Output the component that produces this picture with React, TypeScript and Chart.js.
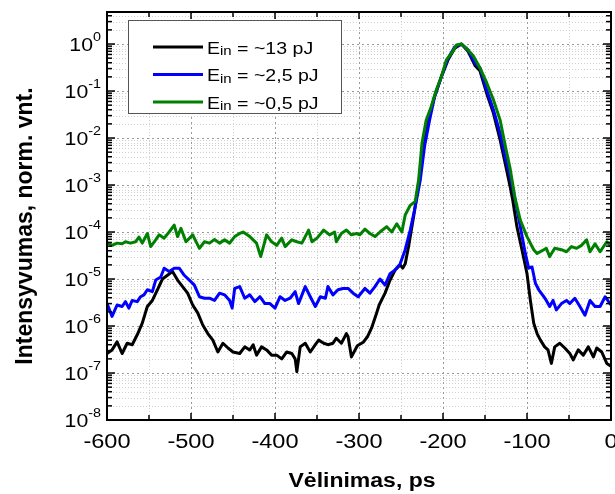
import React, { useEffect, useRef } from 'react';
import { Chart, registerables } from 'chart.js';
Chart.register(...registerables);

// ---------- data (delay in ps, normalized intensity) ----------
const blackX = [-600,-594,-588,-582,-576,-570,-564,-558,-552,-546,-540,-534,-528,-522,-516,-510,-504,-498,-492,-486,-480,-474,-468,-462,-456,-450,-442,-436,-430,-426,-422,-416,-410,-404,-398,-392,-386,-380,-376,-374,-370,-364,-358,-352,-348,-342,-337,-331,-327,-321,-315,-313,-309,-302,-295,-290,-285,-279,-276,-269,-263,-257,-251,-248,-245,-241,-235,-229,-224,-218,-210,-202,-194,-186,-178,-170,-162,-156,-148,-140,-132,-126,-120,-117,-112,-106,-100,-96,-92,-88,-84,-79,-75,-71,-67,-61,-55,-49,-45,-39,-33,-27,-21,-17,-11,-5,0];
const blackY = [2.6e-7,3.1e-7,4.6e-7,2.6e-7,4.3e-7,4.0e-7,6.5e-7,1.15e-6,2.6e-6,3.5e-6,5.9e-6,1.0e-5,1.2e-5,1.45e-5,9.5e-6,6.9e-6,5.0e-6,2.8e-6,1.9e-6,1.05e-6,6.9e-7,5.0e-7,2.8e-7,4.3e-7,3.4e-7,2.8e-7,2.6e-7,3.6e-7,3.1e-7,4.0e-7,2.4e-7,3.6e-7,3.1e-7,2.4e-7,2.4e-7,2.0e-7,2.8e-7,2.6e-7,2.0e-7,1.07e-7,3.6e-7,4.3e-7,2.8e-7,4.0e-7,5.0e-7,4.3e-7,4.0e-7,4.3e-7,5.5e-7,4.3e-7,6.9e-7,5.9e-7,2.2e-7,3.8e-7,4.5e-7,5.9e-7,9.1e-7,1.9e-6,2.8e-6,5.0e-6,9.5e-6,1.55e-5,2.0e-5,1.7e-5,2.1e-5,4.9e-5,2.1e-4,1.1e-3,4.7e-3,2.4e-2,7.6e-2,0.2,0.46,0.81,1.0,0.69,0.35,0.27,0.089,0.034,9.1e-3,2.9e-3,9.1e-4,4.8e-4,1.3e-4,4.2e-5,1.3e-5,3.5e-6,1.15e-6,6.9e-7,5.0e-7,3.6e-7,3.1e-7,1.6e-7,3.6e-7,4.3e-7,3.4e-7,2.6e-7,1.9e-7,3.1e-7,2.4e-7,3.6e-7,2.2e-7,3.4e-7,2.8e-7,1.6e-7,1.4e-7];

const blueX = [-600,-594,-588,-582,-578,-574,-570,-564,-560,-556,-552,-546,-542,-536,-532,-526,-520,-514,-508,-502,-496,-490,-484,-478,-472,-466,-460,-454,-451,-448,-442,-436,-430,-424,-418,-412,-406,-400,-394,-388,-382,-376,-372,-364,-358,-352,-346,-340,-337,-331,-325,-319,-313,-307,-301,-293,-287,-281,-275,-269,-263,-257,-251,-245,-239,-233,-227,-222,-216,-210,-202,-194,-186,-178,-170,-162,-156,-148,-140,-132,-126,-120,-114,-108,-102,-98,-94,-90,-86,-80,-77,-73,-69,-65,-59,-53,-49,-43,-37,-31,-25,-19,-13,-7,0];
const blueY = [3.0e-6,1.6e-6,2.8e-6,2.6e-6,3.3e-6,2.4e-6,3.5e-6,3.3e-6,4.2e-6,4.6e-6,5.9e-6,5.4e-6,9.5e-6,1.1e-5,1.7e-5,1.45e-5,1.7e-5,1.7e-5,1.2e-5,9.5e-6,7.4e-6,4.2e-6,3.9e-6,3.9e-6,3.5e-6,5.0e-6,4.6e-6,3.5e-6,2.4e-6,6.3e-6,6.9e-6,3.9e-6,4.6e-6,3.3e-6,4.2e-6,3.0e-6,3.0e-6,2.4e-6,4.2e-6,3.5e-6,3.9e-6,5.4e-6,3.0e-6,6.9e-6,4.2e-6,2.6e-6,4.2e-6,3.9e-6,6.9e-6,4.6e-6,5.9e-6,6.3e-6,6.3e-6,5.0e-6,4.2e-6,6.3e-6,5.0e-6,6.9e-6,1.0e-5,7.4e-6,1.3e-5,1.55e-5,2.1e-5,4.2e-5,1.1e-4,3.5e-4,1.3e-3,6.6e-3,2.4e-2,7.6e-2,0.2,0.5,0.87,1.0,0.74,0.39,0.31,0.105,0.04,0.0126,4.0e-3,1.5e-3,4.8e-4,1.3e-4,3.5e-5,1.7e-5,1.8e-5,8.1e-6,5.9e-6,4.2e-6,3.5e-6,2.6e-6,3.5e-6,2.2e-6,3.0e-6,3.5e-6,3.0e-6,3.9e-6,2.6e-6,1.7e-6,3.5e-6,2.6e-6,2.6e-6,4.2e-6,2.8e-6];

const greenX = [-600,-594,-588,-582,-578,-572,-566,-562,-558,-552,-548,-542,-538,-532,-526,-520,-516,-512,-506,-498,-490,-484,-478,-472,-466,-460,-454,-448,-442,-438,-430,-422,-417,-410,-404,-398,-392,-388,-380,-374,-368,-360,-356,-350,-342,-335,-329,-327,-321,-315,-309,-303,-299,-293,-287,-281,-275,-267,-261,-255,-249,-245,-239,-233,-229,-225,-220,-214,-208,-202,-196,-190,-184,-178,-170,-164,-156,-148,-140,-132,-126,-120,-114,-108,-100,-92,-88,-80,-77,-73,-67,-59,-53,-47,-41,-35,-29,-25,-19,-13,-5,0];
const greenY = [6.0e-5,5.2e-5,5.8e-5,5.6e-5,6.2e-5,5.8e-5,6.2e-5,7.8e-5,5.8e-5,9.3e-5,4.9e-5,6.8e-5,8.7e-5,7.4e-5,1.0e-4,1.4e-4,8.0e-5,1.2e-4,6.2e-5,8.7e-5,4.5e-5,6.2e-5,5.8e-5,6.9e-5,5.8e-5,6.8e-5,5.8e-5,8.0e-5,9.3e-5,1.0e-4,8.0e-5,5.8e-5,3.0e-5,8.7e-5,6.2e-5,5.2e-5,7.4e-5,4.9e-5,6.8e-5,6.2e-5,5.8e-5,1.1e-4,6.2e-5,7.4e-5,1.1e-4,8.7e-5,1.0e-4,6.2e-5,9.3e-5,1.1e-4,8.7e-5,9.3e-5,8.7e-5,1.15e-4,9.3e-5,8.0e-5,1.0e-4,1.3e-4,1.0e-4,1.5e-4,1.0e-4,2.3e-4,3.7e-4,4.5e-4,1.3e-3,7.8e-3,2.4e-2,4.7e-2,0.105,0.2,0.46,0.63,0.95,1.0,0.74,0.56,0.31,0.15,0.065,0.024,7.0e-3,2.2e-3,5.0e-4,1.8e-4,8.0e-5,4.2e-5,3.5e-5,4.2e-5,4.5e-5,3.0e-5,4.5e-5,4.2e-5,3.8e-5,4.9e-5,4.5e-5,5.2e-5,6.8e-5,3.8e-5,5.6e-5,3.8e-5,6.2e-5,4.9e-5];

const seriesLabels = ['~13 pJ', '~2,5 pJ', '~0,5 pJ'];
const seriesColors = ['#000000', '#0000ff', '#008000'];
const xTicks = [-600, -500, -400, -300, -200, -100, 0];
const xMinorTicks = [-550, -450, -350, -250, -150, -50];
const yTickExps = [-8, -7, -6, -5, -4, -3, -2, -1, 0];
const xTitle = 'Vėlinimas, ps';
const yTitle = 'Intensyvumas, norm. vnt.';

const FONT = '"Liberation Sans", Arial, Helvetica, sans-serif';
const SX = 1.15;

function sText(ctx: CanvasRenderingContext2D, text: string, x: number, y: number, font: string, align: CanvasTextAlign, baseline: CanvasTextBaseline, sx = SX) {
  ctx.save();
  ctx.font = font;
  ctx.textAlign = align;
  ctx.textBaseline = baseline;
  ctx.translate(x, y);
  ctx.scale(sx, 1);
  ctx.fillText(text, 0, 0);
  ctx.restore();
}
function tW(ctx: CanvasRenderingContext2D, text: string, font: string, sx = SX) {
  ctx.save();
  ctx.font = font;
  const w = ctx.measureText(text).width * sx;
  ctx.restore();
  return w;
}
function seg(ctx: CanvasRenderingContext2D, x1: number, y1: number, x2: number, y2: number) {
  ctx.beginPath();
  ctx.moveTo(x1, y1);
  ctx.lineTo(x2, y2);
  ctx.stroke();
}

const gridPlugin = {
  id: 'customGrid',
  beforeDatasetsDraw(chart: any) {
    const { ctx, chartArea: a, scales } = chart;
    const xs = scales.x, ys = scales.y;
    ctx.save();
    ctx.lineWidth = 1;
    ctx.strokeStyle = '#d0d0d0';
    ctx.setLineDash([1, 2]);
    for (const e of yTickExps) {
      for (let m = 2; m <= 9; m++) {
        const v = m * Math.pow(10, e);
        if (v > ys.max) continue;
        const y = Math.round(ys.getPixelForValue(v)) + 0.5;
        seg(ctx, a.left, y, a.right, y);
      }
    }
    for (const v of xMinorTicks) {
      const x = Math.round(xs.getPixelForValue(v)) + 0.5;
      seg(ctx, x, a.top, x, a.bottom);
    }
    ctx.strokeStyle = '#9a9a9a';
    ctx.setLineDash([2, 3]);
    for (const e of yTickExps) {
      const y = Math.round(ys.getPixelForValue(Math.pow(10, e))) + 0.5;
      seg(ctx, a.left, y, a.right, y);
    }
    for (const v of xTicks) {
      const x = Math.round(xs.getPixelForValue(v)) + 0.5;
      seg(ctx, x, a.top, x, a.bottom);
    }
    ctx.restore();
  },
  afterDatasetsDraw(chart: any) {
    const { ctx, chartArea: a, scales } = chart;
    const xs = scales.x, ys = scales.y;
    ctx.save();
    ctx.setLineDash([]);
    ctx.strokeStyle = '#000';
    // ticks
    ctx.lineWidth = 1.5;
    for (const e of yTickExps) {
      const y = ys.getPixelForValue(Math.pow(10, e));
      seg(ctx, a.left, y, a.left + 8, y);
      seg(ctx, a.right, y, a.right - 8, y);
      for (let m = 2; m <= 9; m++) {
        const v = m * Math.pow(10, e);
        if (v > ys.max) continue;
        const yy = ys.getPixelForValue(v);
        seg(ctx, a.left, yy, a.left + 5, yy);
        seg(ctx, a.right, yy, a.right - 5, yy);
      }
    }
    for (const v of xTicks) {
      const x = xs.getPixelForValue(v);
      seg(ctx, x, a.bottom, x, a.bottom - 7);
      seg(ctx, x, a.top, x, a.top + 7);
    }
    for (const v of xMinorTicks) {
      const x = xs.getPixelForValue(v);
      seg(ctx, x, a.bottom, x, a.bottom - 5);
      seg(ctx, x, a.top, x, a.top + 5);
    }
    // frame
    ctx.lineWidth = 2;
    ctx.strokeRect(a.left, a.top, a.right - a.left, a.bottom - a.top);

    // legend
    const lx = 128, ly = 20, lw = 213, lh = 93;
    ctx.fillStyle = '#fff';
    ctx.fillRect(lx, ly, lw, lh);
    ctx.lineWidth = 1;
    ctx.strokeStyle = '#555';
    ctx.strokeRect(lx + 0.5, ly + 0.5, lw, lh);
    const rows = [47, 74.5, 102];
    seriesLabels.forEach((lab, i) => {
      const y = rows[i];
      ctx.strokeStyle = seriesColors[i];
      ctx.lineWidth = 3;
      seg(ctx, 153, y, 203, y);
      ctx.fillStyle = '#000';
      const f1 = `17px ${FONT}`;
      const f2 = `13px ${FONT}`;
      let x = 207;
      sText(ctx, 'E', x, y + 6.5, f1, 'left', 'alphabetic');
      x += tW(ctx, 'E', f1);
      sText(ctx, 'in', x, y + 8, f2, 'left', 'alphabetic');
      x += tW(ctx, 'in', f2);
      sText(ctx, ' = ' + lab, x, y + 6.5, f1, 'left', 'alphabetic');
    });

    // y tick labels with superscripts
    ctx.fillStyle = '#000';
    const fb = `18.5px ${FONT}`;
    const fs = `12.5px ${FONT}`;
    for (const e of yTickExps) {
      const y = ys.getPixelForValue(Math.pow(10, e));
      const sup = String(e);
      const ws = tW(ctx, sup, fs);
      const wb = tW(ctx, '10', fb);
      const right = a.left - 6;
      sText(ctx, '10', right - ws - wb, y + 7, fb, 'left', 'alphabetic');
      sText(ctx, sup, right - ws, y - 3, fs, 'left', 'alphabetic');
    }
    // x tick labels
    for (const v of xTicks) {
      const x = xs.getPixelForValue(v);
      sText(ctx, String(v), x, a.bottom + 27.5, `20.5px ${FONT}`, 'center', 'alphabetic');
    }
    // axis titles
    sText(ctx, xTitle, (a.left + a.right) / 2 + 3, 487, `bold 20px ${FONT}`, 'center', 'alphabetic');
    ctx.save();
    ctx.translate(32, 226);
    ctx.rotate(-Math.PI / 2);
    ctx.font = `bold 23px ${FONT}`;
    ctx.textAlign = 'center';
    ctx.textBaseline = 'alphabetic';
    ctx.fillText(yTitle, 0, 0);
    ctx.restore();
    ctx.restore();
  },
};

function pts(xs: number[], ys: number[]) {
  return xs.map((x, i) => ({ x, y: ys[i] }));
}

export default function App() {
  const ref = useRef<HTMLCanvasElement | null>(null);
  useEffect(() => {
    document.body.style.margin = '0';
    document.body.style.overflow = 'hidden';
    const canvas = ref.current;
    if (!canvas) return;
    const chart = new Chart(canvas, {
      type: 'line',
      data: {
        datasets: [
          { label: seriesLabels[0], data: pts(blackX, blackY), borderColor: seriesColors[0], borderWidth: 3, pointRadius: 0, order: 2 },
          { label: seriesLabels[1], data: pts(blueX, blueY), borderColor: seriesColors[1], borderWidth: 3, pointRadius: 0, order: 1 },
          { label: seriesLabels[2], data: pts(greenX, greenY), borderColor: seriesColors[2], borderWidth: 3, pointRadius: 0, order: 0 },
        ],
      },
      options: {
        animation: false,
        responsive: false,
        devicePixelRatio: 1,
        layout: { padding: { left: 107, right: 4, top: 12, bottom: 74 } },
        elements: { line: { tension: 0, borderJoinStyle: 'round', borderCapStyle: 'round' } },
        scales: {
          x: { type: 'linear', min: -600, max: 0, display: false },
          y: { type: 'logarithmic', min: 1e-8, max: 4.8, display: false },
        },
        plugins: { legend: { display: false }, tooltip: { enabled: false } },
      },
      plugins: [gridPlugin],
    });
    return () => chart.destroy();
  }, []);
  return <canvas ref={ref} width={615} height={494} style={{ display: 'block' }} />;
}
